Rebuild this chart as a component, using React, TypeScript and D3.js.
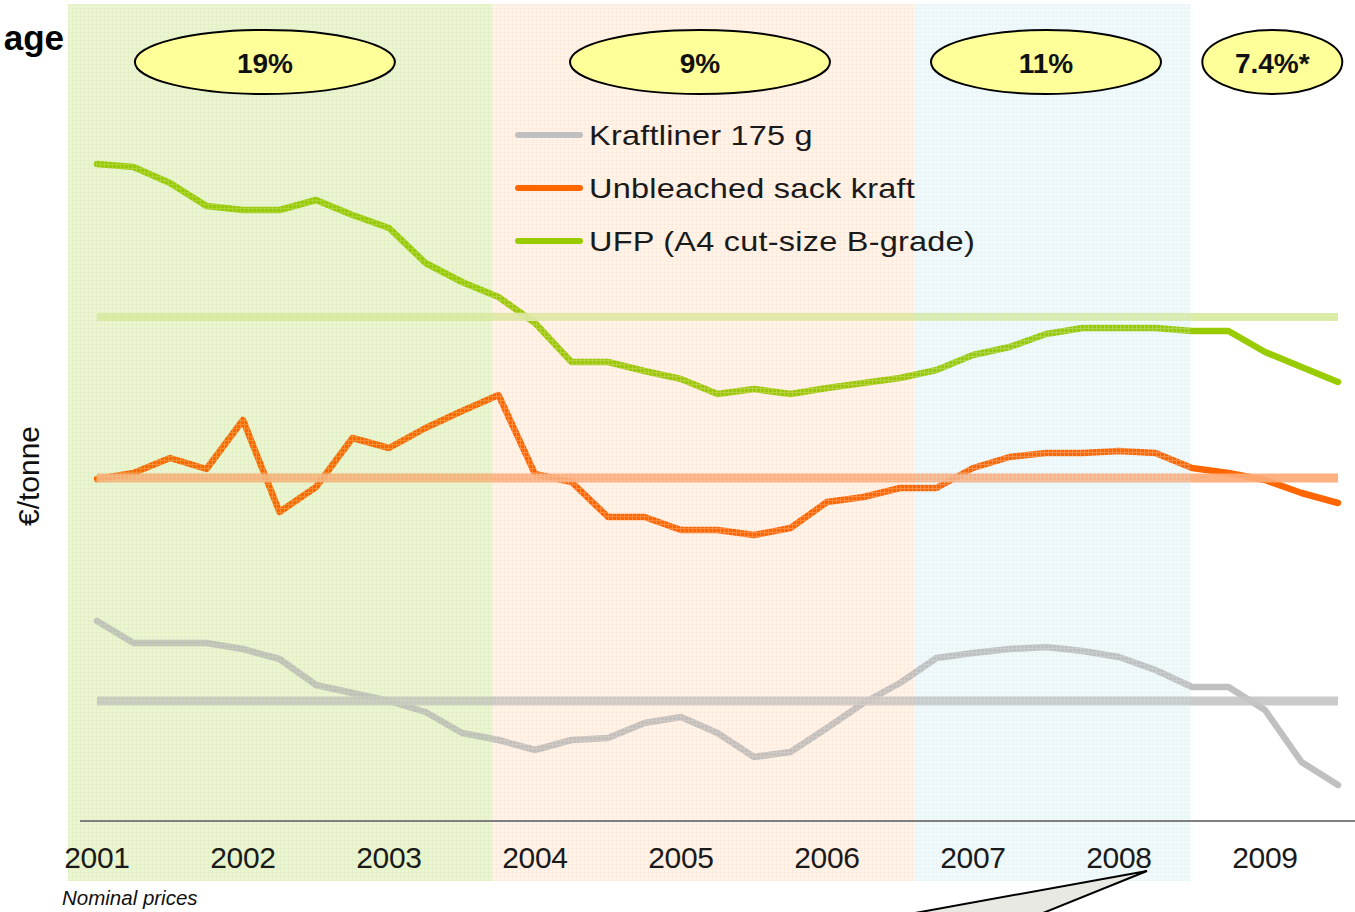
import React from "react";
import * as d3 from "d3";

const W = 1355;
const H = 912;

const seriesNames = ["Kraftliner 175 g", "Unbleached sack kraft", "UFP (A4 cut-size B-grade)"];
const seriesColors = ["#c0c0c0", "#ff6600", "#99cc00"];
const avgColors = ["#c6c6c6", "#ffab78", "#d8eba0"];

// quarterly periods 2001Q1 .. 2009Q3
const periods = d3.range(35).map((i) => 2001 + i / 4);

// €/tonne (no axis values shown)
const kraftliner = [499, 477, 477, 477, 471, 461, 435, 427, 419, 408, 387, 380, 370, 380, 382, 397, 403, 387, 363, 368, 392, 417, 437, 462, 467, 471, 473, 469, 463, 450, 433, 433, 410, 358, 335];
const sackKraft = [641, 647, 662, 651, 700, 608, 633, 682, 672, 692, 709, 725, 646, 638, 603, 603, 590, 590, 585, 592, 618, 623, 632, 632, 652, 663, 667, 667, 669, 667, 652, 647, 640, 627, 617];
const ufp = [956, 953, 937, 914, 910, 910, 920, 905, 892, 857, 838, 823, 797, 758, 758, 749, 741, 726, 731, 726, 732, 737, 742, 750, 765, 773, 786, 792, 792, 792, 789, 789, 768, 753, 738];
const averages = [419, 642, 803];

const yearLabels = ["2001", "2002", "2003", "2004", "2005", "2006", "2007", "2008", "2009"];

const bandStarts = [2000.8, 2003.71, 2006.6];
const bandEnds = [2003.71, 2006.6, 2008.49];
const bandFills = ["#ebf5d6", "#fff3ea", "#f1f9fa"];
const bandGrid = ["#d2e8a0", "#fcdcc6", "#d6ecef"];

const cagrLabels = ["19%", "9%", "11%", "7.4%*"];
const cagrCenters = [2002.15, 2005.13, 2007.5, 2009.05];
const cagrRx = [130, 130, 115, 70];

export default function App() {
  const x = d3.scaleLinear().domain([2001, 2010]).range([97, 97 + 9 * 146]);
  const y = d3.scaleLinear().domain([300, 1000]).range([820, 120]);
  const line = d3
    .line<number>()
    .x((_, i) => x(periods[i]))
    .y((d) => y(d));
  const series = [kraftliner, sackKraft, ufp];
  const font = "'Liberation Sans', Arial, Helvetica, sans-serif";
  const bandTop = 4;
  const bandBottom = 881;

  return (
    <div style={{ position: "absolute", left: 0, top: 0 }}>
      <svg width={W} height={H} style={{ display: "block", fontFamily: font }}>
        <defs>
          {bandGrid.map((c, i) => (
            <pattern key={i} id={`grid${i}`} width={4} height={4} patternUnits="userSpaceOnUse">
              <path d="M0 0.5H4M0.5 0V4" stroke={c} strokeWidth={1} fill="none" />
            </pattern>
          ))}
        </defs>
        <rect width={W} height={H} fill="#ffffff" />
        {/* bands background */}
        {bandStarts.map((s, i) => (
          <rect key={i} x={x(s)} y={bandTop} width={x(bandEnds[i]) - x(s)} height={bandBottom - bandTop} fill={bandFills[i]} />
        ))}
        {/* series lines */}
        {series.map((s, i) => (
          <path key={i} d={line(s) || ""} fill="none" stroke={seriesColors[i]} strokeWidth={6.5} strokeLinejoin="round" strokeLinecap="round" />
        ))}
        {/* averages */}
        {averages.map((a, i) => (
          <line key={i} x1={x(2001)} x2={x(periods[periods.length - 1])} y1={y(a)} y2={y(a)} stroke={avgColors[i]} strokeWidth={i === 2 ? 8 : 9} opacity={0.92} />
        ))}
        {/* band texture overlay */}
        {bandStarts.map((s, i) => (
          <rect key={i} x={x(s)} y={bandTop} width={x(bandEnds[i]) - x(s)} height={bandBottom - bandTop} fill={`url(#grid${i})`} opacity={0.3} />
        ))}
        {/* x axis */}
        <line x1={80} x2={W} y1={821} y2={821} stroke="#7f7f7f" strokeWidth={2} />
        {yearLabels.map((t) => (
          <text key={t} x={x(+t)} y={868} textAnchor="middle" fontSize={30} fill="#1a1a1a" letterSpacing={-0.3}>
            {t}
          </text>
        ))}
        <text x={62} y={905} fontSize={20.5} fontStyle="italic" fill="#111">
          Nominal prices
        </text>
        {/* y label */}
        <text transform="translate(39,476) rotate(-90)" textAnchor="middle" fontSize={30} fill="#111">
          €/tonne
        </text>
        {/* title fragment */}
        <text x={64} y={50} textAnchor="end" fontSize={35} fontWeight="bold" fill="#000">
          age
        </text>
        {/* CAGR ellipses */}
        {cagrLabels.map((l, i) => (
          <g key={l}>
            <ellipse cx={x(cagrCenters[i])} cy={62} rx={cagrRx[i]} ry={32} fill="#ffff99" stroke="#000" strokeWidth={2} />
            <text x={x(cagrCenters[i])} y={73} textAnchor="middle" fontSize={28} fontWeight="bold" fill="#111">
              {l}
            </text>
          </g>
        ))}
        {/* legend */}
        {seriesNames.map((n, i) => (
          <g key={n} transform={`translate(0,${135 + i * 53})`}>
            <line x1={518} x2={580} y1={0} y2={0} stroke={seriesColors[i]} strokeWidth={6} strokeLinecap="round" />
            <text transform="translate(589,10) scale(1.16,1)" fontSize={28} fill="#1a1a1a" letterSpacing={0.2}>
              {n}
            </text>
          </g>
        ))}
        {/* callout */}
        <path d="M915,913 L1147,871 L1043,913 Z" fill="#e9e9e4" stroke="#000" strokeWidth={2} />
      </svg>
    </div>
  );
}
